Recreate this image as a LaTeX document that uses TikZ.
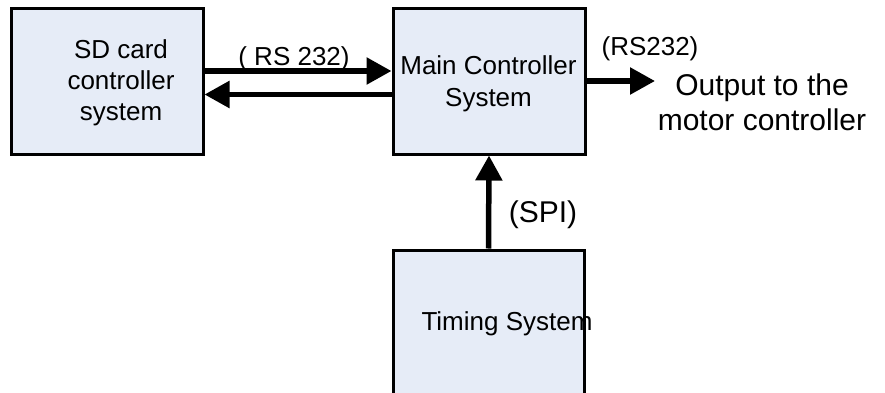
\documentclass[tikz,border=0pt]{standalone}
\usepackage{fontspec}
\setmainfont{Liberation Sans}
\usetikzlibrary{arrows.meta}
\definecolor{boxfill}{RGB}{230,236,247}
\tikzset{
  blk/.style={draw=black, line width=3pt, fill=boxfill, minimum width=192pt, minimum height=145pt, inner sep=0pt},
  arr/.style={line width=5.5pt, -{Triangle[length=25pt,width=26pt]}},
  txt/.style={font=\fontsize{26}{31}\selectfont, align=center, inner sep=0pt, anchor=base},
  bigtxt/.style={font=\fontsize{30}{35}\selectfont, align=center, inner sep=0pt, anchor=base}
}
\begin{document}
\begin{tikzpicture}[x=1pt,y=1pt]
\useasboundingbox (0,0) rectangle (885,392);
\clip (0,0) rectangle (885,392);
\node[blk] (sd) at (107,310.5) {};
\node[blk] (main) at (489,310.5) {};
\node[blk, minimum width=191pt, minimum height=160pt] (tim) at (488.5,62) {};
\node[txt] (sdt) at (121,272) {SD card\\controller\\system};
\node[txt, font=\fontsize{26}{32}\selectfont] (mt) at (488.5,286) {Main Controller\\System};
\node[txt] (tt) at (507,62) {Timing System};
\node[txt] (l1) at (294,327) {( RS 232)};
\node[txt] (l2) at (650,337) {(RS232)};
\node[bigtxt] (out) at (762,262) {Output to the\\motor controller};
\node[bigtxt] (l3) at (543,170) {(SPI)};
\coordinate (outtip) at (655,311);
\draw[arr] ([yshift=10.5pt]sd.east) -- ([yshift=10.5pt]main.west);
\draw[arr] ([yshift=-13pt]main.west) -- ([yshift=-13pt]sd.east);
\draw[arr] ([yshift=0.5pt]main.east) -- (outtip);
\draw[arr] (tim.north) -- (main.south);
\end{tikzpicture}
\end{document}
